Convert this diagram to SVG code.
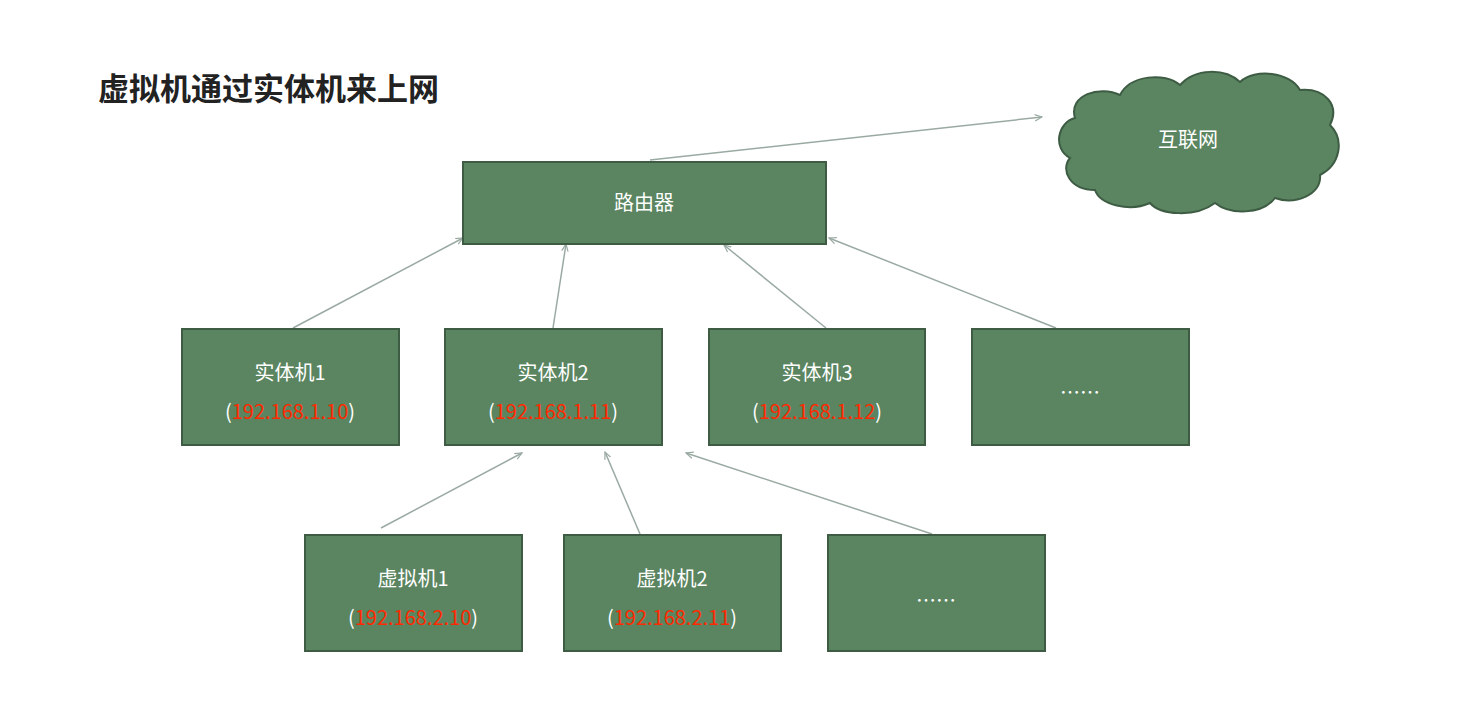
<svg xmlns="http://www.w3.org/2000/svg" width="1466" height="719" viewBox="0 0 1466 719">
<style>
.box{fill:#5a8560;stroke:#3d5c43;stroke-width:2}
.t{font-family:"Noto Sans CJK SC","Liberation Sans",sans-serif;fill:#fff;font-size:20px;text-anchor:middle}
.r{fill:#ff2a00}
.c{stroke:#9aaaa2;stroke-width:1.5;fill:none;marker-end:url(#a)}
</style>
<defs><marker id="a" viewBox="0 0 10 10" refX="9" refY="5" markerWidth="8" markerHeight="8" orient="auto" markerUnits="userSpaceOnUse"><path d="M0,1 L9,5 L0,9" fill="none" stroke="#9aaaa2" stroke-width="1.5"/></marker></defs>
<rect width="1466" height="719" fill="#fff"/>
<text x="98" y="100" font-family="Noto Sans CJK SC,sans-serif" font-size="31" font-weight="bold" fill="#222">虚拟机通过实体机来上网</text>
<g id="connectors">
<line class="c" x1="650" y1="160" x2="1042" y2="117"/>
<line class="c" x1="293" y1="328" x2="463" y2="238"/>
<line class="c" x1="553" y1="328" x2="566" y2="244"/>
<line class="c" x1="826" y1="328" x2="724" y2="245"/>
<line class="c" x1="1056" y1="328" x2="829" y2="238"/>
<line class="c" x1="381" y1="528" x2="522" y2="453"/>
<line class="c" x1="640" y1="534" x2="605" y2="452"/>
<line class="c" x1="932" y1="534" x2="686" y2="453"/>
</g>
<g id="cloud"><path class="box" d="M1075,118 C1068,95 1100,85 1120,95 C1130,75 1165,72 1180,85 C1195,68 1225,68 1240,82 C1255,68 1290,72 1300,90 C1325,88 1340,105 1330,125 C1345,140 1340,165 1320,175 C1322,195 1295,205 1275,198 C1262,215 1230,215 1215,203 C1195,218 1160,215 1150,203 C1130,212 1100,205 1095,190 C1070,190 1060,170 1070,158 C1052,148 1058,122 1075,118 Z"/><text class="t" x="1188" y="147">互联网</text></g>
<g id="router"><rect class="box" x="463" y="162" width="363" height="82"/><text class="t" x="644" y="210">路由器</text></g>
<g id="pc1"><rect class="box" x="182" y="329" width="217" height="116"/><text class="t" x="290" y="380">实体机1</text><text class="t" x="290" y="419">(<tspan class="r">192.168.1.10</tspan>)</text></g>
<g id="pc2"><rect class="box" x="445" y="329" width="217" height="116"/><text class="t" x="553" y="380">实体机2</text><text class="t" x="553" y="419">(<tspan class="r">192.168.1.11</tspan>)</text></g>
<g id="pc3"><rect class="box" x="709" y="329" width="216" height="116"/><text class="t" x="817" y="380">实体机3</text><text class="t" x="817" y="419">(<tspan class="r">192.168.1.12</tspan>)</text></g>
<g id="pc4"><rect class="box" x="972" y="329" width="217" height="116"/><text class="t" x="1080" y="400">……</text></g>
<g id="vm1"><rect class="box" x="305" y="535" width="217" height="116"/><text class="t" x="413" y="586">虚拟机1</text><text class="t" x="413" y="625">(<tspan class="r">192.168.2.10</tspan>)</text></g>
<g id="vm2"><rect class="box" x="564" y="535" width="217" height="116"/><text class="t" x="672" y="586">虚拟机2</text><text class="t" x="672" y="625">(<tspan class="r">192.168.2.11</tspan>)</text></g>
<g id="vm3"><rect class="box" x="828" y="535" width="217" height="116"/><text class="t" x="936" y="608">……</text></g>
</svg>
